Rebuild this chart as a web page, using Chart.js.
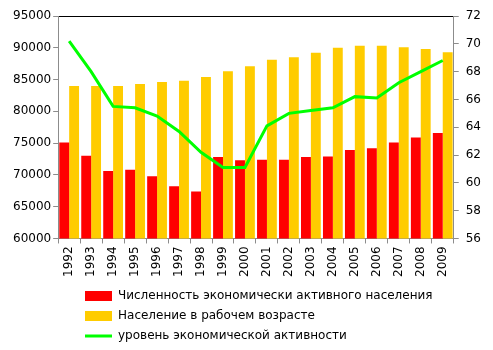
<!DOCTYPE html>
<html><head><meta charset="utf-8">
<script src="https://cdn.jsdelivr.net/npm/chart.js@4/dist/chart.umd.min.js"></script>
<style>html,body{margin:0;padding:0;background:#fff}</style>
</head><body>
<canvas id="c" width="493" height="350" style="display:block;width:493px;height:350px"></canvas>
<script>
const years = ['1992','1993','1994','1995','1996','1997','1998','1999','2000','2001','2002','2003','2004','2005','2006','2007','2008','2009'];
const activePopulation = [75100,73000,70600,70800,69800,68200,67400,72800,72300,72400,72400,72800,72900,73900,74200,75100,75900,76600];
const workingAgePopulation = [84000,84000,84000,84300,84600,84800,85400,86300,87100,88100,88500,89200,90000,90300,90300,90100,89800,89300];
const activityRate = [70.2,68.0,65.5,65.4,64.8,63.7,62.2,61.1,61.1,64.1,65.0,65.2,65.4,66.2,66.1,67.2,68.0,68.8];
const seriesNames = ['Численность экономически активного населения','Население в рабочем возрасте','уровень экономической активности'];
const leftAxisRange = [60000, 95000, 5000];
const rightAxisRange = [56, 72, 2];

const FONT = 'DejaVu Sans';
const AXIS_GRAY = '#8c8c8c';

const legendShift = {
  id: 'legendShift',
  afterLayout(chart) {
    const lg = chart.legend;
    if (!lg) return;
    const h = lg.height;
    lg.left = 77;
    lg.top = 282;
    lg.bottom = lg.top + h;
  }
};

new Chart(document.getElementById('c'), {
  type: 'bar',
  data: {
    labels: years,
    datasets: [
      { label: seriesNames[0], data: activePopulation, backgroundColor: '#ff0000', borderWidth: 0, yAxisID: 'y', order: 1,
        categoryPercentage: 0.9, barPercentage: 1.0 },
      { label: seriesNames[1], data: workingAgePopulation, backgroundColor: '#ffcc00', borderWidth: 0, yAxisID: 'y', order: 1,
        categoryPercentage: 0.9, barPercentage: 1.0 },
      { type: 'line', label: seriesNames[2], data: activityRate, borderColor: '#00ff00', backgroundColor: '#00ff00',
        borderWidth: 3, pointRadius: 0, tension: 0, yAxisID: 'y1', order: 0, fill: false }
    ]
  },
  options: {
    responsive: false,
    animation: false,
    events: [],
    layout: { padding: { left: 11, right: 5, top: 16, bottom: 0 } },
    plugins: {
      tooltip: { enabled: false },
      legend: {
        position: 'bottom',
        align: 'start',
        labels: {
          font: { family: FONT, size: 12 },
          color: '#000',
          padding: 8,
          usePointStyle: true,
          pointStyleWidth: 27,
          boxHeight: 10,
          sort: (a, b) => a.datasetIndex - b.datasetIndex,
          generateLabels(chart) {
            const items = Chart.defaults.plugins.legend.labels.generateLabels(chart);
            return items.map(it => {
              if (it.datasetIndex === 2) {
                it.pointStyle = 'line'; it.strokeStyle = '#00ff00'; it.lineWidth = 3;
              } else {
                it.pointStyle = 'rect'; it.lineWidth = 0;
              }
              return it;
            });
          }
        }
      }
    },
    scales: {
      x: {
        type: 'category',
        offset: true,
        grid: { display: true, drawOnChartArea: false, drawTicks: true, tickLength: 5, color: AXIS_GRAY, offset: true },
        border: { display: true, color: AXIS_GRAY },
        ticks: { autoSkip: false, minRotation: 90, maxRotation: 90, padding: 3, color: '#000', font: { family: FONT, size: 12 } }
      },
      xTop: {
        type: 'category',
        position: 'top',
        labels: years,
        grid: { display: false, drawTicks: false },
        ticks: { display: false },
        border: { display: true, color: '#000', width: 1 }
      },
      y: {
        position: 'left',
        min: leftAxisRange[0], max: leftAxisRange[1],
        grid: { display: true, drawOnChartArea: false, drawTicks: true, tickLength: 5, color: AXIS_GRAY },
        border: { display: true, color: AXIS_GRAY },
        ticks: { stepSize: leftAxisRange[2], padding: 2, color: '#000', font: { family: FONT, size: 12 }, callback: v => String(v) }
      },
      y1: {
        position: 'right',
        min: rightAxisRange[0], max: rightAxisRange[1],
        grid: { display: true, drawOnChartArea: false, drawTicks: true, tickLength: 5, color: AXIS_GRAY },
        border: { display: true, color: AXIS_GRAY },
        ticks: { stepSize: rightAxisRange[2], padding: 7, color: '#000', font: { family: FONT, size: 12 }, callback: v => String(v) }
      }
    }
  },
  plugins: [legendShift]
});
</script>
</body></html>
